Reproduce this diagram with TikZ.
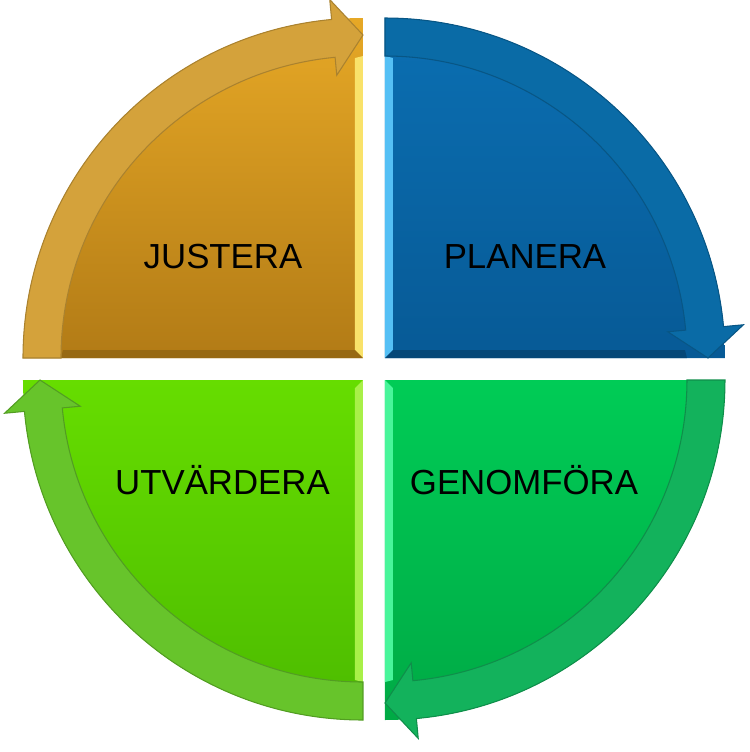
\documentclass[tikz,border=0pt]{standalone}
\usepackage{xcolor}
\usepackage{fontspec}
\usepackage{tikz}
\usetikzlibrary{positioning}

\newfontfamily\lblfont{Liberation Sans}

\definecolor{orangetop}{HTML}{E6A826}
\definecolor{orangebot}{HTML}{B27B16}
\definecolor{orangeband}{HTML}{D4A23B}
\definecolor{orangelite}{HTML}{F9E26A}
\definecolor{bluetop}{HTML}{0B6FB2}
\definecolor{bluebot}{HTML}{075A96}
\definecolor{blueband}{HTML}{0A6BA6}
\definecolor{bluelite}{HTML}{55C0F5}
\definecolor{greentop}{HTML}{00CC56}
\definecolor{greenbot}{HTML}{00AA45}
\definecolor{greenband}{HTML}{13B25C}
\definecolor{greenlite}{HTML}{48F59A}
\definecolor{limetop}{HTML}{66DD00}
\definecolor{limebot}{HTML}{4CBB00}
\definecolor{limeband}{HTML}{67C42B}
\definecolor{limelite}{HTML}{A8F048}

\begin{document}
\begin{tikzpicture}[
  body/.style={draw=none},
  band/.style={line width=0.3pt},
  bevel/.style={draw=none},
  lbl/.style={font=\lblfont\fontsize{9.9}{12}\selectfont, anchor=base, text=black}
]
\useasboundingbox (-3.74,-3.83) rectangle (3.76,3.69);

% JUSTERA (top left)
\begin{scope}[shift={(-0.11,0.11)}]
  \shade[body, top color=orangetop, bottom color=orangebot]
    (0,0) -- (180:3.4) arc[start angle=180, end angle=90, radius=3.4] -- cycle;
  \fill[bevel, orangelite] (0,0) -- (0,3.02) -- (-0.08,3.0) -- (-0.08,0.08) -- cycle;
  \fill[bevel, orangebot!85!black] (0,0) -- (-3.02,0) -- (-3.0,0.08) -- (-0.08,0.08) -- cycle;
  \filldraw[band, fill=orangeband, draw=orangeband!80!black]
    (180:3.4) arc[start angle=180, end angle=95.3, radius=3.4] -- (95.3:3.6)
    -- (90:3.23) -- (95.3:2.84) -- (95.3:3.02)
    arc[start angle=95.3, end angle=180, radius=3.02] -- cycle;
\end{scope}

% PLANERA (top right)
\begin{scope}[shift={(0.11,0.11)}]
  \shade[body, top color=bluetop, bottom color=bluebot]
    (0,0) -- (90:3.4) arc[start angle=90, end angle=0, radius=3.4] -- cycle;
  \fill[bevel, bluelite] (0,0) -- (0,3.02) -- (0.08,3.0) -- (0.08,0.08) -- cycle;
  \fill[bevel, bluebot!80!black] (0,0) -- (3.02,0) -- (3.0,0.08) -- (0.08,0.08) -- cycle;
  \filldraw[band, fill=blueband, draw=blueband!80!black]
    (90:3.4) arc[start angle=90, end angle=5.3, radius=3.4] -- (5.3:3.6)
    -- (0:3.23) -- (5.3:2.84) -- (5.3:3.02)
    arc[start angle=5.3, end angle=90, radius=3.02] -- cycle;
\end{scope}

% GENOMFORA (bottom right)
\begin{scope}[shift={(0.11,-0.11)}]
  \shade[body, top color=greentop, bottom color=greenbot]
    (0,0) -- (0:3.4) arc[start angle=0, end angle=-90, radius=3.4] -- cycle;
  \fill[bevel, greenlite] (0,0) -- (0,-3.02) -- (0.08,-3.0) -- (0.08,-0.08) -- cycle;
  \filldraw[band, fill=greenband, draw=greenband!80!black]
    (0:3.4) arc[start angle=0, end angle=-84.7, radius=3.4] -- (-84.7:3.6)
    -- (-90:3.23) -- (-84.7:2.84) -- (-84.7:3.02)
    arc[start angle=-84.7, end angle=0, radius=3.02] -- cycle;
\end{scope}

% UTVARDERA (bottom left)
\begin{scope}[shift={(-0.11,-0.11)}]
  \shade[body, top color=limetop, bottom color=limebot]
    (0,0) -- (-90:3.4) arc[start angle=-90, end angle=-180, radius=3.4] -- cycle;
  \fill[bevel, limelite] (0,0) -- (0,-3.02) -- (-0.08,-3.0) -- (-0.08,-0.08) -- cycle;
  \filldraw[band, fill=limeband, draw=limeband!80!black]
    (-90:3.4) arc[start angle=-90, end angle=-174.7, radius=3.4] -- (-174.7:3.6)
    -- (-180:3.23) -- (-174.7:2.84) -- (-174.7:3.02)
    arc[start angle=-174.7, end angle=-90, radius=3.02] -- cycle;
\end{scope}

\node[lbl] (justera)   at (-1.51,1.01)  {JUSTERA};
\node[lbl] (planera)   at (1.51,1.01)   {PLANERA};
\node[lbl] (utvardera) at (-1.515,-1.25) {UTVÄRDERA};
\node[lbl] (genomfora) at (1.50,-1.25)  {GENOMFÖRA};
\end{tikzpicture}
\end{document}
